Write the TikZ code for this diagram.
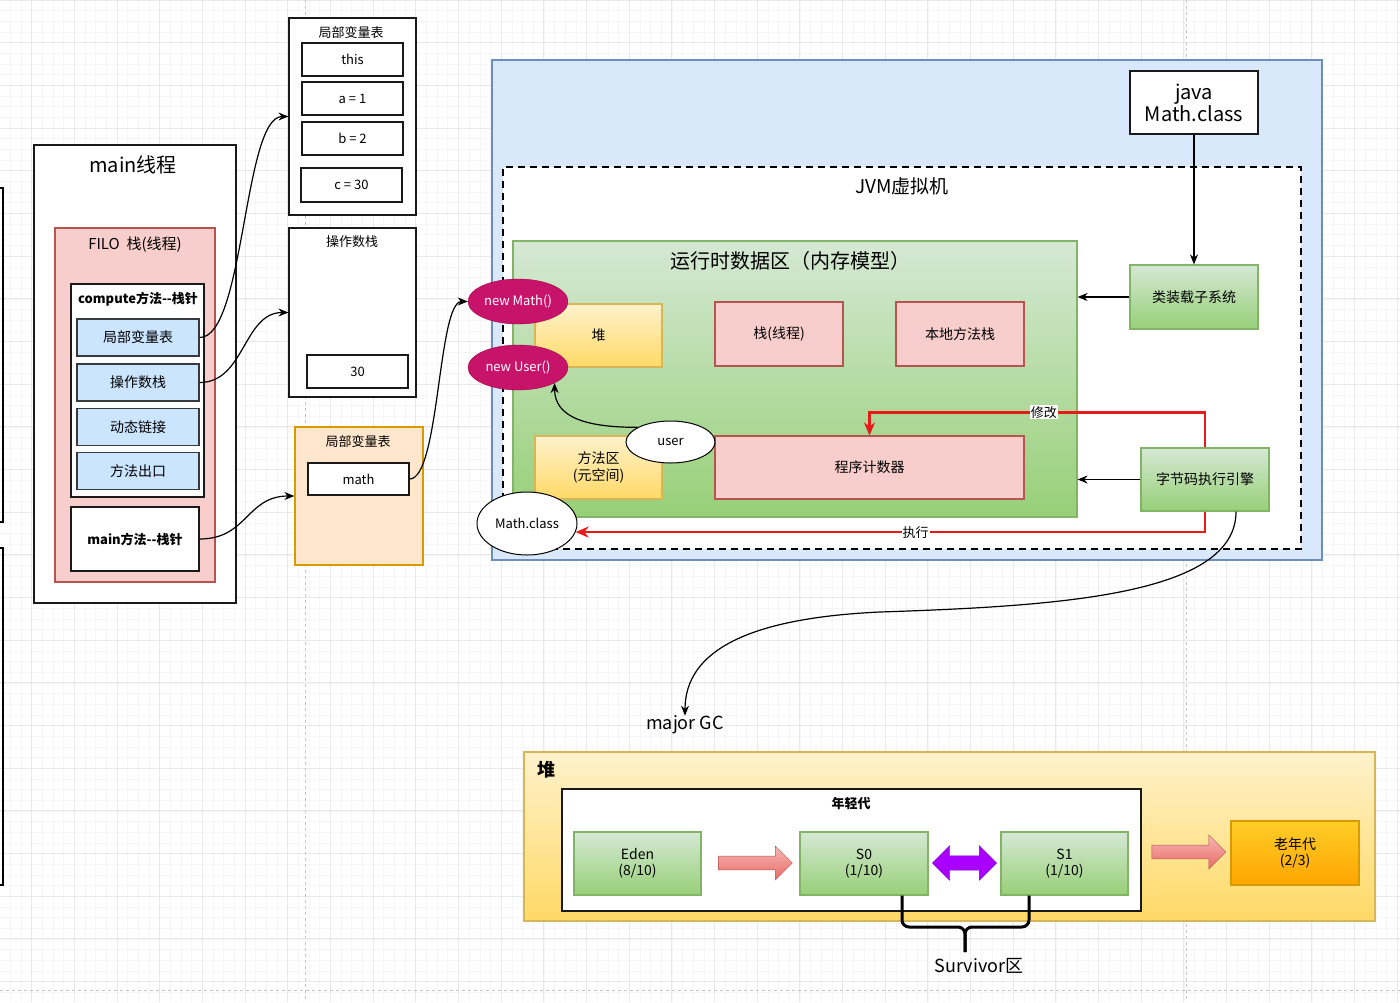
\documentclass[tikz,border=0pt]{standalone}
\usepackage{fontspec}
\setmainfont{Noto Sans CJK SC}
\usepackage{tikz}
\usetikzlibrary{calc,arrows.meta,shapes.geometric,shapes.arrows}
\definecolor{redx}{HTML}{E81919}
\definecolor{bluef}{HTML}{CCE5FF}
\definecolor{blued}{HTML}{36393D}
\definecolor{jvmf}{HTML}{DAE8FC}
\definecolor{jvmd}{HTML}{6C8EBF}
\definecolor{pinkf}{HTML}{F8CECC}
\definecolor{pinkd}{HTML}{B85450}
\definecolor{greent}{HTML}{D5E8D4}
\definecolor{greenb}{HTML}{97D077}
\definecolor{greend}{HTML}{82B366}
\definecolor{yelt}{HTML}{FFF2CC}
\definecolor{yelb}{HTML}{FFD966}
\definecolor{yeld}{HTML}{D6B656}
\definecolor{orgf}{HTML}{FFE6CC}
\definecolor{orgd}{HTML}{D79B00}
\definecolor{oldt}{HTML}{FFCD28}
\definecolor{oldb}{HTML}{FFA500}
\definecolor{magx}{HTML}{C8136A}
\definecolor{magd}{HTML}{A50040}
\definecolor{purx}{HTML}{AA00FF}
\definecolor{purd}{HTML}{7700CC}
\definecolor{arrt}{HTML}{F5B7B5}
\definecolor{arrb}{HTML}{EA6B66}
\newcommand{\fsz}[2]{\fontsize{#1}{#2}\selectfont}
\tikzset{
  sz/.style 2 args={minimum width=#1,minimum height=#2},
  txt/.style={inner sep=0pt,text=black,align=center},
  wbox/.style={draw=black!90,line width=1.2pt,fill=white,inner sep=0pt,text=black,font=\fsz{13}{16}},
  blk/.style={wbox,line width=2pt},
  cell/.style={draw=blued,line width=1.5pt,fill=bluef,inner sep=0pt,font=\fsz{14}{16},text=black},
  pbox/.style={draw=pinkd,line width=1.2pt,fill=pinkf,inner sep=0pt,font=\fsz{14}{16},text=black},
  gbox/.style={draw=greend,line width=1.2pt,top color=greent,bottom color=greenb,inner sep=0pt,align=center,font=\fsz{14}{16},text=black},
  ybox/.style={draw=yeld,line width=1.2pt,top color=yelt,bottom color=yelb,inner sep=0pt,align=center,font=\fsz{14}{17},text=black},
  ell/.style={ellipse,draw=magd,fill=magx,text=white,inner sep=0pt,font=\fsz{13}{15}},
  well/.style={ellipse,draw=black,line width=1pt,fill=white,inner sep=0pt,font=\fsz{13}{15},text=black},
  ar/.style={-{Stealth[length=10pt,width=8pt]},line width=1.2pt,black},
  redar/.style={-{Stealth[length=13pt,width=11pt]},line width=2.5pt,redx},
  lbl/.style={fill=white,inner sep=1pt,font=\fsz{13}{15},text=black},
  gridmin/.style={gray!7,line width=0.5pt},
  gridmaj/.style={gray!18,line width=0.7pt},
  pgbrk/.style={gray!45,dashed,line width=0.8pt},
  brc/.style={line width=3pt,black,rounded corners=7pt}
}
\begin{document}
\begin{tikzpicture}[x=1pt,y=-1pt]
\useasboundingbox (0,0) rectangle (1400,1002);
\fill[white] (0,0) rectangle (1400,1002);
\foreach \i in {0,...,131} \draw[gridmin] (-0.4+10.67*\i,0) -- ++(0,1002);
\foreach \i in {0,...,94} \draw[gridmin] (0,10.67*\i) -- ++(1400,0);
\foreach \i in {0,...,32} \draw[gridmaj] (31.6+42.67*\i,0) -- ++(0,1002);
\foreach \i in {0,...,23} \draw[gridmaj] (0,42.67*\i) -- ++(1400,0);
\draw[pgbrk] (305,0) -- (305,1002) (1186,0) -- (1186,1002) (0,990) -- (1400,990);
\draw[line width=1.5pt] (0,188) -| (3,522) -- (0,522) (0,548) -| (3,885) -- (0,885);

\node[blk,sz={202}{458}] (mth) at (135,374) {};
\node[txt,font=\fsz{20}{24}] (mtht) at (133,165) {main线程};
\node[pbox,sz={160}{354}] (filo) at (135,405) {};
\node[txt,font=\fsz{15}{18}] (filot) at (135,245) {FILO\ \ 栈(线程)};
\node[wbox,sz={133}{213}] (cmp) at (137.5,390.5) {};
\node[txt,font=\bfseries\fsz{13}{16}] (cmpt) at (138,299) {compute方法{-}{-}栈针};
\node[cell,sz={122}{37}] (lvt) at (138,337.5) {局部变量表};
\node[cell,sz={122}{37}] (ops) at (138,382.5) {操作数栈};
\node[cell,sz={122}{37}] (dyn) at (138,427) {动态链接};
\node[cell,sz={122}{37}] (ret) at (138,471) {方法出口};
\node[wbox,sz={128}{64},font=\bfseries\fsz{13}{16}] (mainm) at (135,539) {main方法{-}{-}栈针};

\node[wbox,sz={127}{197}] (lv1) at (352.5,116.5) {};
\node[txt,font=\fsz{13}{16}] (lv1t) at (351,33) {局部变量表};
\node[wbox,sz={101}{33}] (vthis) at (352.5,59.5) {this};
\node[wbox,sz={101}{33}] (va) at (352.5,98.5) {a = 1};
\node[wbox,sz={101}{33}] (vb) at (352.5,138.5) {b = 2};
\node[wbox,sz={101}{34}] (vc) at (351.5,185) {c = 30};
\node[wbox,sz={127}{169}] (opst) at (352.5,312.5) {};
\node[txt,font=\fsz{13}{16}] (opstt) at (352,242) {操作数栈};
\node[wbox,sz={101}{33}] (v30) at (357.5,371.5) {30};
\node[draw=orgd,fill=orgf,line width=1.2pt,sz={128}{138}] (lv2) at (359,496) {};
\node[txt,font=\fsz{13}{16}] (lv2t) at (358,442) {局部变量表};
\node[wbox,sz={101}{32}] (vmath) at (358.5,479) {math};

\node[draw=jvmd,fill=jvmf,line width=1.2pt,sz={830}{500}] (jvm) at (907,310) {};
\node[draw,fill=white,line width=2pt,dash pattern=on 7pt off 5pt,sz={798}{382}] (vmb) at (902,358) {};
\node[txt,font=\fsz{19}{22}] (vmt) at (902,186) {JVM虚拟机};
\node[blk,sz={128}{63},font=\fsz{20}{22},align=center] (jmc) at (1194,102.5) {java\\Math.class};
\node[gbox,sz={564}{276}] (rt) at (795,379) {};
\node[txt,font=\fsz{20}{24}] (rtt) at (790,261) {运行时数据区（内存模型）};
\node[ybox,sz={127}{63}] (hp) at (598.5,335.5) {堆};
\node[pbox,sz={128}{64}] (stk) at (779,334) {栈(线程)};
\node[pbox,sz={128}{64}] (nstk) at (960,334) {本地方法栈};
\node[ybox,sz={127}{63}] (meth) at (598.5,467.5) {方法区\\(元空间)};
\node[pbox,sz={309}{63}] (pc) at (869.5,467.5) {程序计数器};
\node[ell,sz={100}{45}] (nm) at (518,301.5) {new Math()};
\node[ell,sz={100}{45}] (nu) at (518,367.5) {new User()};
\node[well,sz={89}{42}] (usr) at (670.5,442) {user};
\node[well,sz={100}{63}] (mc) at (527,523.5) {Math.class};
\node[gbox,sz={128}{64}] (cls) at (1194,297) {类装载子系统};
\node[gbox,sz={128}{63}] (eng) at (1205,479.5) {字节码执行引擎};

\draw[ar] (lvt.east) .. controls +(45,0) and +(-45,0) .. (lv1.west);
\draw[ar] (ops.east) .. controls +(45,0) and +(-45,0) .. (opst.west);
\draw[ar] (mainm.east) .. controls +(48,0) and +(-48,0) .. (lv2.west);
\draw[ar] (vmath.east) .. controls +(30,0) and +(-30,0) .. (nm.west);
\draw[ar] (usr.156) .. controls +(-50,0) and +(0,35) .. (nu.-23);
\draw[ar] (jmc.south) -- (cls.north);
\draw[ar] (cls.west) -- (cls.west -| rt.east);
\draw[ar] (eng.west) -- (eng.west -| rt.east);
\draw[redar] (eng.north) -- ++(0,-35) -| node[lbl,pos=0.24] (mod) {修改} (pc.north);
\draw[redar] (eng.south) |- node[lbl,pos=0.73] (exe) {执行} (mc.-10);
\coordinate (gs) at ($(eng.south)+(31,0)$);
\node[txt,font=\fsz{18}{20}] (gc) at (685,725) {major GC};
\draw[ar] (gs) .. controls (1236,595) and (1060,606) .. (880,612) .. controls (750,618) and (685,650) .. (gc.north);

\node[ybox,sz={851}{169}] (heap) at (949.5,836.5) {};
\node[txt,font=\bfseries\fsz{18}{20}] (heapt) at (546,770) {堆};
\node[wbox,sz={579}{122}] (yng) at (851.5,850) {};
\node[txt,font=\bfseries\fsz{13}{16}] (yngt) at (851,804) {年轻代};
\node[gbox,sz={127}{63}] (eden) at (637.5,863.5) {Eden\\(8/10)};
\node[gbox,sz={128}{63}] (s0) at (864,863.5) {S0\\(1/10)};
\node[gbox,sz={127}{63}] (s1) at (1064.5,863.5) {S1\\(1/10)};
\node[draw=orgd,line width=1.2pt,top color=oldt,bottom color=oldb,sz={128}{64},align=center,font=\fsz{14}{16}] (old) at (1295,853) {老年代\\(2/3)};
\node[single arrow,draw=pinkd,top color=arrt,bottom color=arrb,minimum height=74,minimum width=34,inner sep=6.5pt,single arrow head extend=10pt] (a1) at (752,863) {};
\node[single arrow,draw=pinkd,top color=arrt,bottom color=arrb,minimum height=74,minimum width=34,inner sep=6.5pt,single arrow head extend=10pt] (a2) at (1185.5,852) {};
\node[double arrow,draw=purd,fill=purx,minimum height=64,minimum width=34,inner sep=7pt,double arrow head extend=10pt] (a3) at (964.5,863) {};
\coordinate (bl) at ($(s0.south)+(38,0)$);
\coordinate (br) at ($(s1.south)+(-35.5,0)$);
\coordinate (bm) at (965,927);
\coordinate (bt) at (965,952);
\node[txt,font=\fsz{18}{20}] (sv) at (979,966) {Survivor区};
\draw[brc] (bl) |- (bm) -- (bt);
\draw[brc] (br) |- (bm) -- (bt);
\end{tikzpicture}
\end{document}
